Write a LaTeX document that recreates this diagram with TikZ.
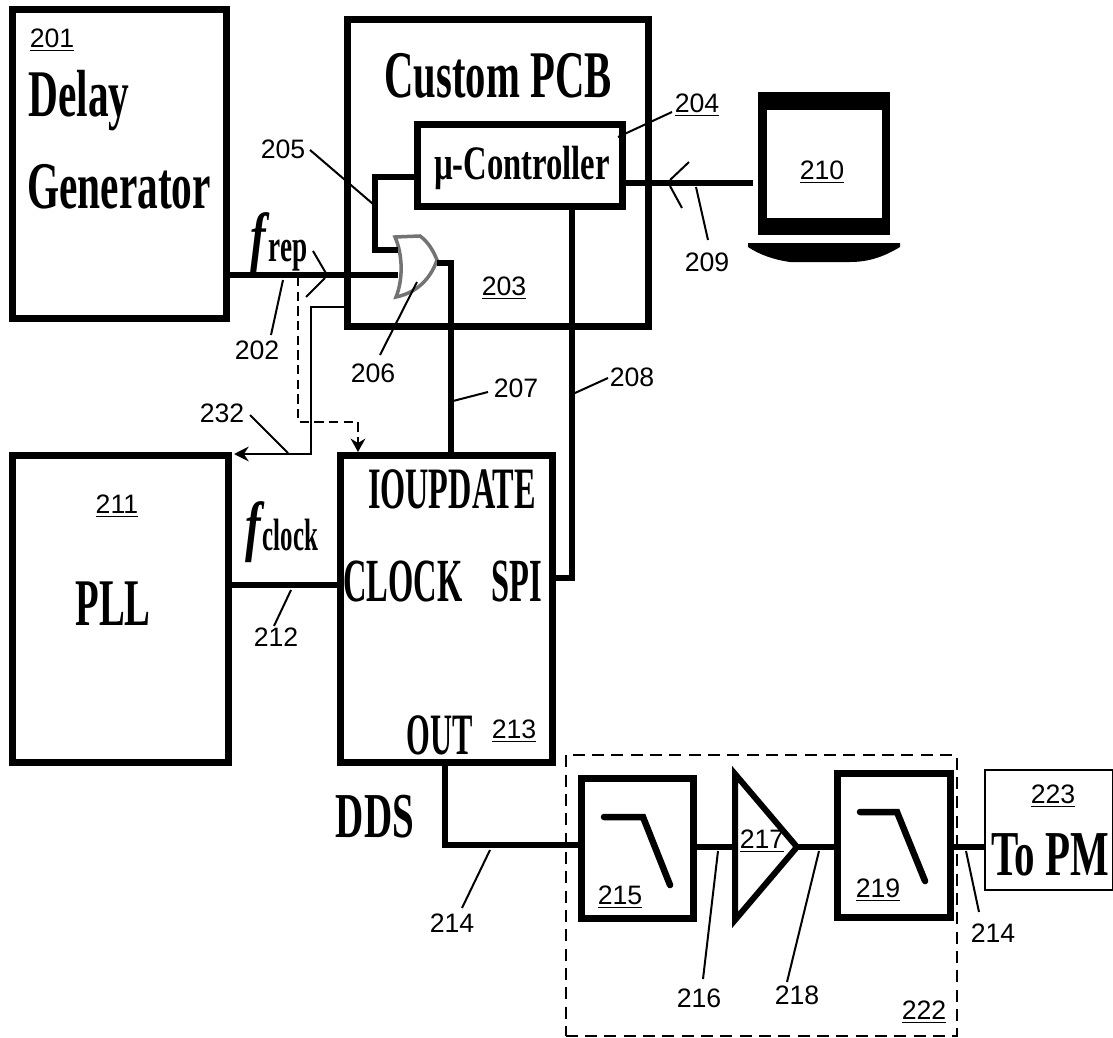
\documentclass[tikz,border=0pt]{standalone}
\usepackage{fontspec}
\usepackage{graphicx}
\setmainfont{Liberation Sans}
\newfontfamily\bigserif{Liberation Serif}[BoldFont={Liberation Serif Bold},ItalicFont={Liberation Serif Italic},BoldItalicFont={Liberation Serif Bold Italic}]
\usetikzlibrary{arrows.meta,calc}
\newcommand{\cond}[3]{\scalebox{#1}[1]{\fontsize{#2}{#2}\selectfont #3}}
\tikzset{
 x=0.75pt,y=-0.75pt,
 block/.style={draw=black,line width=7*0.75pt,inner sep=0pt,fill=white},
 wire/.style={draw=black,line width=6*0.75pt},
 filt/.style={draw=black,line width=6.5*0.75pt,line cap=round},
 thin wire/.style={draw=black,line width=2.4*0.75pt},
 lead/.style={draw=black,line width=2*0.75pt},
 num/.style={font=\fontsize{20}{20}\selectfont,inner sep=0pt},
 big/.style={font=\bigserif\bfseries,inner sep=0pt},
 pin/.style={inner sep=0pt,minimum size=0pt},
}
\newcommand{\bx}[6]{\node[block,minimum width=#4*0.75pt-#2*0.75pt,minimum height=#5*0.75pt-#3*0.75pt,#6] at ({(#2+#4)/2},{(#3+#5)/2})}
\begin{document}
\begin{tikzpicture}
\useasboundingbox (0,0) rectangle (1113,1038);
% blocks
\bx{}{12}{10}{226}{318}{} (b201) {};
\bx{}{347}{20}{648}{326}{} (b203) {};
\bx{}{417}{125}{622}{206}{} (b204) {};
\node[fill=black,inner sep=0pt,minimum width=132*0.75pt,minimum height=143*0.75pt] (b210) at (824,163.5) {};
\node[fill=white,inner sep=0pt,minimum width=115*0.75pt,minimum height=108*0.75pt] (b210i) at (824.5,164) {};
\bx{}{12}{455}{228}{762}{} (b211) {};
\bx{}{340}{455}{552}{762}{} (b213) {};
\bx{}{581}{778}{693}{918}{} (b215) {};
\bx{}{837}{773}{950}{917}{} (b219) {};
\node[draw=black,line width=2.4*0.75pt,minimum width=128*0.75pt,minimum height=120*0.75pt,inner sep=0pt] (b223) at (1049,830) {};
\node[draw=black,line width=2*0.75pt,dashed,dash pattern=on 9pt off 5.5pt,minimum width=391*0.75pt,minimum height=281*0.75pt,inner sep=0pt] (b222) at (761,895.5) {};
% laptop base
\fill[black] (748,243) -- (900,243) -- (900,247) .. controls (885,256) and (870,262) .. (850,262) -- (790,262) .. controls (775,260) and (760,255) .. (748,247) -- cycle;
% amplifier
\node[pin] (amp) at (797,847) {};
\draw[line width=6*0.75pt,line join=miter] (735,774) -- (797,847) -- (735,920) -- cycle;
% filter curves
\draw[filt] (604,817) -- (643,817) -- (670,885);
\draw[filt] (860,812) -- (897,812) -- (925,881);
% gate
\node[pin] (gateA) at (398,250) {};
\node[pin] (gateB) at (398,275) {};
\node[pin] (gateO) at (437,263) {};
\draw[black!55,line width=3.5*0.75pt] (395,237) -- (420,236) .. controls (428,242) and (433,250) .. (437,260) .. controls (432,275) and (420,292) .. (396,297) .. controls (403,280) and (403,255) .. (395,237) -- cycle;
% wires
\draw[wire] (b204.west|-0,177) -- (375,177) -- (375,250) -- (gateA);
\draw[wire] (b201.east|-0,275) -- (gateB);
\draw[wire] (gateO) -- (451,263) -- (b213.north-|451,0);
\draw[wire] (b204.south-|572,0) -- (572,578) -- (b213.east|-0,578);
\draw[wire] (b204.east|-0,183) -- (753,183);
\draw[wire] (b211.east|-0,585) -- (b213.west|-0,585);
\draw[wire] (b213.south-|445,0) -- (445,845) -- (b215.west|-0,845);
\draw[wire] (b215.east|-0,847) -- (735,847);
\draw[wire] (amp) -- (b219.west|-0,847);
\draw[wire] (b219.east|-0,847) -- (b223.west|-0,847);
% thin wires
\draw[thin wire,-{Stealth[length=11pt,width=11pt]}] (b203.west|-0,307) -- (311,307) -- (311,454) -- (234,454);
\draw[thin wire,dashed,dash pattern=on 7pt off 4pt,-{Stealth[length=10pt,width=11pt]}] (298,277) -- (298,422) -- (358,422) -- (358,452);
% slashes
\draw[lead] (313,251) -- (327,275);
\draw[lead] (325,278) -- (306,297);
\draw[lead] (689,162) -- (670,180);
\draw[lead] (670,186) -- (682,208);
% leaders
\node[num] (l205) at (283,149) {205};
\draw[lead] (310,150) -- (373,204);
\node[num] (l202) at (257,350) {202};
\draw[lead] (271,335) -- (283,280);
\node[num] (l206) at (373,373) {206};
\draw[lead] (380,355) -- (417,282);
\node[num] (l232) at (222,413) {232};
\draw[lead] (250,415) -- (288,453);
\node[num] (l207) at (516,388) {207};
\draw[lead] (453,401) -- (488,392);
\node[num] (l208) at (632,377) {208};
\draw[lead] (575,393) -- (608,378);
\node[num] (l209) at (707,262) {209};
\draw[lead] (696,187) -- (708,240);
\node[num] (l204u) at (697,105) {\underline{204}};
\draw[lead] (618,137) -- (672,112);
\node[num] (l212) at (276,637) {212};
\draw[lead] (291,590) -- (274,626);
\node[num] (l214a) at (452,923) {214};
\draw[lead] (490,850) -- (462,908);
\node[num] (l216) at (699,998) {216};
\draw[lead] (718,851) -- (703,979);
\node[num] (l218) at (797,995) {218};
\draw[lead] (819,851) -- (787,982);
\node[num] (l214b) at (993,933) {214};
\draw[lead] (966,851) -- (979,912);
% underlined ids
\node[num] (t201) at (52,40) {\underline{201}};
\node[num] (t203) at (504,288) {\underline{203}};
\node[num] (t210) at (822,172) {\underline{210}};
\node[num] (t211) at (117,506) {\underline{211}};
\node[num] (t213) at (514,731) {\underline{213}};
\node[num] (t215) at (620,897) {\underline{215}};
\node[num] (t217) at (762,841) {\underline{217}};
\node[num] (t219) at (878,890) {\underline{219}};
\node[num] (t222) at (924,1012) {\underline{222}};
\node[num] (t223) at (1053,796) {\underline{223}};
% large text
\node[big] (n1) at (79,101) {\cond{.62}{50}{Delay}};
\node[big] (n2) at (119,187) {\cond{.62}{50}{Generator}};
\node[big] (n3) at (498,76) {\cond{.61}{50}{Custom PCB}};
\node[big] (n4) at (522,168) {\cond{.68}{36}{µ-Controller}};
\node[big] (n5) at (113,604) {\cond{.58}{50}{PLL}};
\node[big] (n6) at (452,489) {\cond{.55}{44}{IOUPDATE}};
\node[big] (n7) at (403,581) {\cond{.53}{46}{CLOCK}};
\node[big] (n8) at (517,581) {\cond{.53}{46}{SPI}};
\node[big] (n9) at (440,735) {\cond{.52}{44}{OUT}};
\node[big] (n10) at (375,817) {\cond{.61}{48}{DDS}};
\node[big] (n11) at (1050,855) {\cond{.64}{48}{To PM}};
\node[big] (n12) at (279,243) {\cond{.7}{50}{\textit{f}}\hspace{-1pt}\raisebox{-.35ex}{\cond{.6}{34}{rep}}};
\node[big] (n13) at (282,532) {\cond{.7}{50}{\textit{f}}\hspace{-2pt}\raisebox{-.35ex}{\cond{.55}{34}{clock}}};
\end{tikzpicture}
\end{document}
